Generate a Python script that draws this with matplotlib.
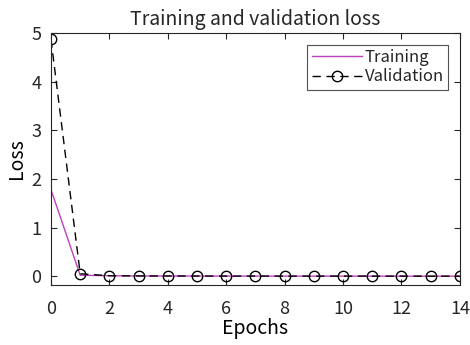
import matplotlib
matplotlib.use('Agg')
import matplotlib.pyplot as plt

epochs = list(range(15))
train_loss = [1.78, 0.02, 0.01, 0.005, 0.004, 0.003, 0.003, 0.002, 0.002, 0.002, 0.002, 0.001, 0.001, 0.001, 0.001]
val_loss = [4.87, 0.05, 0.01, 0.006, 0.005, 0.004, 0.003, 0.003, 0.002, 0.002, 0.002, 0.002, 0.002, 0.001, 0.001]

plt.rcParams['font.family'] = ['Noto Sans CJK JP', 'DejaVu Sans']
plt.rcParams['text.color'] = '#262626'

fig = plt.figure(figsize=(4.7, 3.45), dpi=100)
ax = fig.add_axes([0.1085, 0.174, 0.87, 0.730])

ax.plot(epochs, train_loss, color='#bf40bf', linewidth=1.0, label='Training')
ax.plot(epochs, val_loss, color='black', linestyle='--', dashes=(6, 4), linewidth=1.0,
        marker='o', markersize=7.5, markerfacecolor='none', markeredgewidth=1.0,
        label='Validation')

ax.set_xlim(0, 14)
ax.set_ylim(-0.18, 5)
ax.set_xticks(range(0, 15, 2))
ax.set_yticks(range(0, 6))
ax.tick_params(direction='in', top=True, right=True, labelsize=13, length=4, pad=7,
               colors='#262626')
ax.tick_params(axis='x', pad=11)
for s in ax.spines.values():
    s.set_linewidth(0.8)
    s.set_color('#262626')

ax.set_title('Training and validation loss', fontsize=14, pad=6)
ax.set_xlabel('Epochs', fontsize=14, labelpad=0)
ax.set_ylabel('Loss', fontsize=14, labelpad=3)

leg = ax.legend(loc='upper right', fontsize=12, frameon=True, fancybox=False,
                edgecolor='#262626', handlelength=3.0, handletextpad=0.2,
                borderpad=0.25, labelspacing=0.15, borderaxespad=0.7)
leg.get_frame().set_linewidth(0.8)

fig.savefig('out.png', dpi=100)
